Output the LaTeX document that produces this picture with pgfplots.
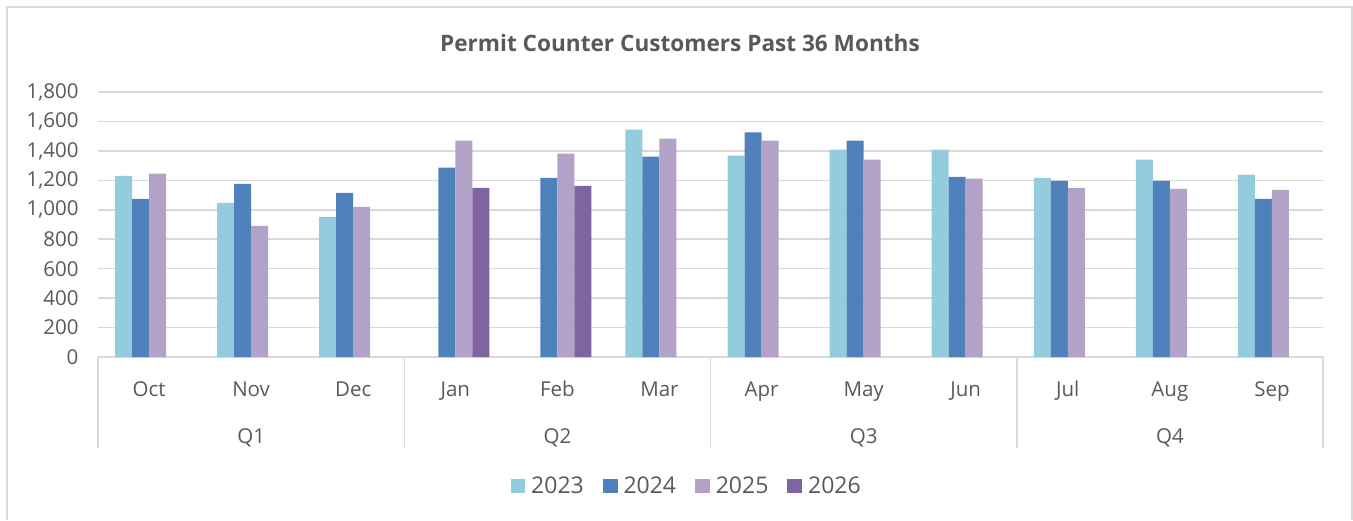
\documentclass[border=0pt]{standalone}
\usepackage{fontspec}
\setmainfont{Open Sans}
\usepackage{pgfplots}
\pgfplotsset{compat=1.18}
\definecolor{cA}{HTML}{93CDDD}
\definecolor{cB}{HTML}{4F81BD}
\definecolor{cC}{HTML}{B3A2C7}
\definecolor{cD}{HTML}{8064A2}
\definecolor{txt}{HTML}{595959}
\definecolor{grd}{HTML}{D9D9D9}
\begin{document}
\begin{tikzpicture}[x=1pt,y=1pt]
\path[use as bounding box] (0,0) rectangle (1353,520);
\draw[grd, line width=1.5pt] (7,0) -- (7,513) -- (1352,513) -- (1352,0);
\node[anchor=base, text=txt, font=\fontsize{22.6}{26}\selectfont\bfseries] at (680,468) {Permit Counter Customers Past 36 Months};
\begin{axis}[
  at={(98pt,163pt)}, anchor=south west,
  scale only axis, width=1225pt, height=265pt,
  xmin=-0.5, xmax=11.5, ymin=0, ymax=1800,
  ytick={0,200,...,1800},
  xtick={0,...,11},
  xticklabels={Oct,Nov,Dec,Jan,Feb,Mar,Apr,May,Jun,Jul,Aug,Sep},
  ymajorgrids, grid style={grd, line width=1.5pt},
  axis x line*=bottom, axis y line*=left,
  x axis line style={grd, line width=1.5pt, -},
  y axis line style={draw=none},
  tick style={draw=none},
  /pgf/number format/.cd, 1000 sep={,}, assume math mode=true, /pgfplots/.cd,
  ticklabel style={text=txt, font=\fontsize{20.5}{24}\selectfont},
  yticklabel style={xshift=-16pt},
  xticklabel style={anchor=base, yshift=-35.5pt},
  clip=false,
  ybar, bar width=0.16667,
  legend style={at={(0.4805,-0.487)}, anchor=center, draw=none, fill=none,
    legend columns=4, font=\fontsize{23}{26}\selectfont, text=txt,
    /tikz/every even column/.append style={column sep=17pt},
    legend cell align=left},
  legend image code/.code={\path (0pt,0pt) -- (18.7pt,0pt);\fill[#1,draw=none] (0pt,-7.3pt) rectangle (14.7pt,7.3pt);},
]
\addplot[fill=cA, draw=none, bar shift=-0.25] coordinates {(0,1231) (1,1047) (2,951) (5,1545) (6,1368) (7,1409) (8,1409) (9,1217) (10,1340) (11,1238)};
\addplot[fill=cB, draw=none, bar shift=-0.08333] coordinates {(0,1074) (1,1176) (2,1115) (3,1286) (4,1217) (5,1361) (6,1525) (7,1470) (8,1224) (9,1197) (10,1197) (11,1074)};
\addplot[fill=cC, draw=none, bar shift=0.08333] coordinates {(0,1245) (1,890) (2,1019) (3,1470) (4,1381) (5,1484) (6,1470) (7,1340) (8,1211) (9,1149) (10,1142) (11,1135)};
\addplot[fill=cD, draw=none, bar shift=0.25] coordinates {(3,1149) (4,1163)};
\legend{2023,2024,2025,2026}
\foreach \xx in {-0.5,2.5,5.5,8.5,11.5}{
  \edef\tmp{\noexpand\draw[grd, line width=1.5pt] (axis cs:\xx,0) -- ++(0pt,-91pt);}\tmp
}
\foreach \xx/\q in {1/Q1,4/Q2,7/Q3,10/Q4}{
  \edef\tmp{\noexpand\node[anchor=base, text=txt, font=\noexpand\fontsize{20.5}{24}\noexpand\selectfont] at (axis cs:\xx,0) [yshift=-86pt] {\q};}\tmp
}
\end{axis}
\end{tikzpicture}
\end{document}
